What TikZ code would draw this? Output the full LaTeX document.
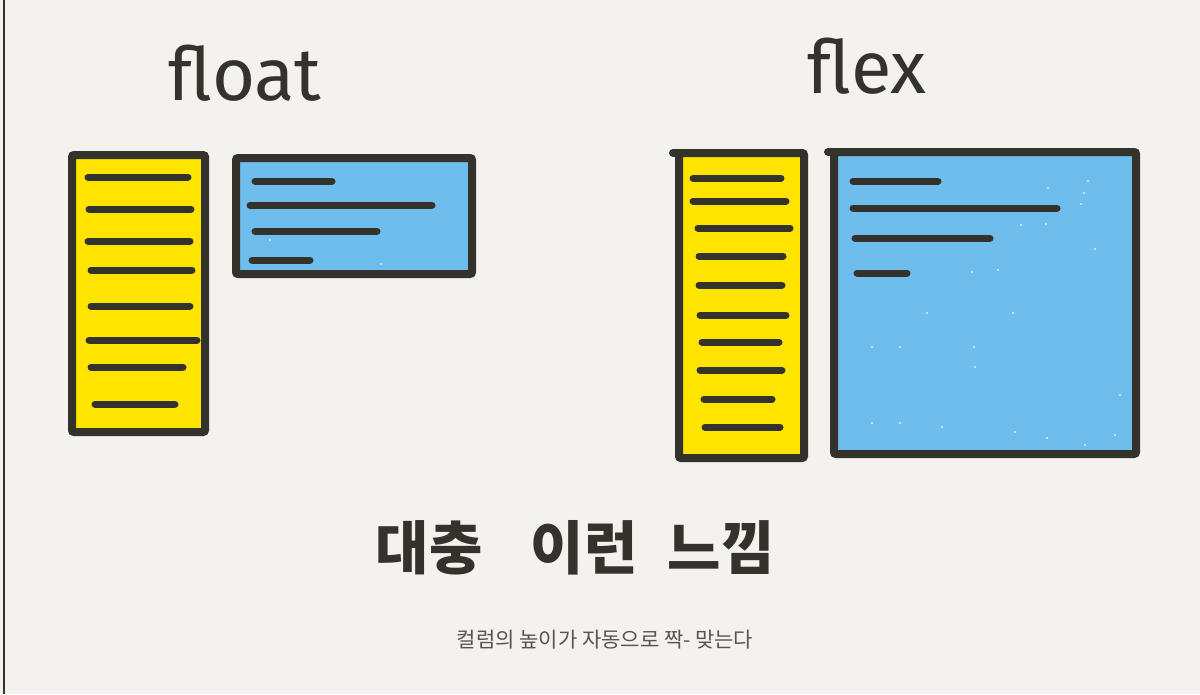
\documentclass[tikz,border=0pt]{standalone}
\usepackage{fontspec}
\setmainfont{Fira Sans}
\newfontfamily\krfont{Noto Sans CJK KR}
\newfontfamily\hand{Fira Sans}
\definecolor{bgc}{HTML}{F4F2EE}
\definecolor{ink}{HTML}{34332B}
\definecolor{yel}{HTML}{FFE400}
\definecolor{blu}{HTML}{6EBDEC}
\definecolor{cap}{HTML}{555555}
\tikzset{
  ybox/.style={draw=ink, fill=yel, line width=8pt, rounded corners=2pt},
  bbox/.style={draw=ink, fill=blu, line width=8pt, rounded corners=2pt},
  txtline/.style={draw=ink, line width=7pt, line cap=round},
  title/.style={text=ink, font=\hand\fontsize{74}{80}\selectfont, inner sep=0pt},
  krbig/.style={text=ink, font=\krfont\bfseries\fontsize{58}{64}\selectfont, inner sep=0pt},
  krcap/.style={text=cap, font=\krfont\fontsize{21}{24}\selectfont, inner sep=0pt},
  speck/.style={fill=white, opacity=0.75}
}
\begin{document}
\begin{tikzpicture}[x=1pt,y=-1pt]
\fill[bgc] (0,0) rectangle (1200,694);
\useasboundingbox (0,0) rectangle (1200,694);
\draw[ink, line width=1.5pt] (4,0) -- (4,694);

% titles
\node[title, anchor=base] (tfloat) at (245,100) {float};
\node[title, anchor=base] (tflex) at (867,93) {flex};

% float: yellow column
\draw[ybox] (72,155) rectangle (205,432);
\foreach \y/\a/\b in {177/88/188, 209/89/191, 241/88/190, 270/91/192, 306/91/190, 340/89/197, 367/91/183, 404/95/175}
  \draw[txtline] (\a,\y) -- (\b,\y);

% float: blue box
\draw[bbox] (236,158) rectangle (472,274);
\foreach \y/\a/\b in {181/255/332, 205/250/432, 231/255/377, 260/252/310}
  \draw[txtline] (\a,\y) -- (\b,\y);
\fill[speck] (270,240) circle (1.2);
\fill[speck] (381,264) circle (1.2);

% flex: yellow column
\draw[ybox] (679,153) rectangle (804,458);
\draw[ink, line width=8pt, line cap=round] (673,153) -- (690,153);
\foreach \y/\a/\b in {178/693/781, 201/693/786, 228/698/790, 256/699/783, 285/699/782, 315/700/786, 342/702/779, 370/700/782, 399/704/772, 427/705/780}
  \draw[txtline] (\a,\y) -- (\b,\y);

% flex: blue box
\draw[bbox] (834,152) rectangle (1136,454);
\draw[ink, line width=8pt, line cap=round] (828,152) -- (845,152);
\foreach \y/\a/\b in {181/853/938, 208/853/1057, 238/855/990, 273/857/907}
  \draw[txtline] (\a,\y) -- (\b,\y);
\foreach \px/\py in {1088/181, 1048/188, 1084/193, 1081/204, 1046/224, 1095/249, 1021/225, 927/313, 1013/313, 974/347, 872/347, 900/347, 975/367, 1120/395, 1015/432, 1047/438, 942/427, 900/423, 872/423, 1115/435, 1085/445, 972/272, 998/270}
  \fill[speck] (\px,\py) circle (1.2);

% handwriting
\node[krbig] (k1) at (429,548) {대충};
\node[krbig] (k2) at (584,548) {이런};
\node[krbig] (k3) at (721,548) {느낌};

% caption
\node[krcap] (capt) at (605,640) {컬럼의 높이가 자동으로 짝- 맞는다};
\end{tikzpicture}
\end{document}
